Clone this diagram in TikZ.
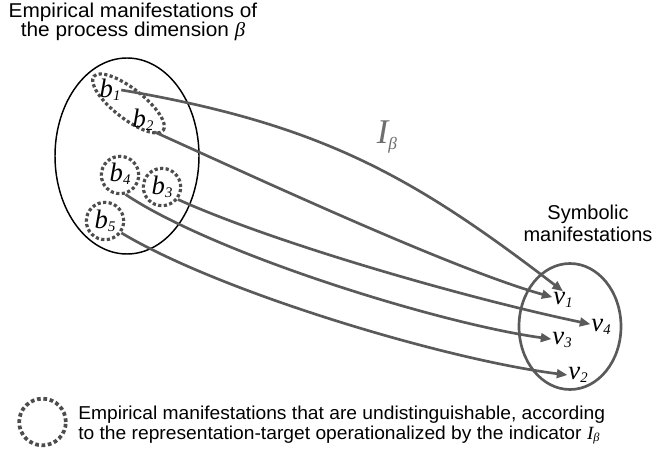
\documentclass[tikz,border=0pt]{standalone}
\usepackage{fontspec}
\setmainfont{Liberation Sans}
\newfontfamily\tms{Liberation Serif}
\usetikzlibrary{arrows.meta,shapes.geometric}
\definecolor{arrcol}{HTML}{5A5A5A}
\definecolor{dotcol}{HTML}{4D4D4D}
\definecolor{ibcol}{HTML}{6E6E6E}
\newcommand\wl[2][1.04]{\scalebox{#1}[1]{#2}}
\newcommand\lb[2]{{\fontsize{20}{20}\selectfont\tms\itshape #1}\raisebox{-2.5pt}{\fontsize{11}{11}\selectfont\tms\itshape #2}}
\tikzset{
  dots/.style={draw=dotcol, line width=2.4pt, dash pattern=on 2.4pt off 1.8pt},
  conn/.style={draw=arrcol, line width=2pt, -{Triangle[length=8pt,width=6.5pt]}},
  lab/.style={inner sep=0.5pt},
  txt/.style={inner sep=0pt, font=\fontsize{15}{14}\selectfont},
}
\begin{document}
\begin{tikzpicture}[x=0.75pt,y=-0.75pt]
\useasboundingbox (0,0) rectangle (653,456);
% title
\node[txt, align=center] (title) at (133,22) {\wl{Empirical manifestations of}\\ \wl{the process dimension {\tms\itshape β}}};
% big ellipse
\node[ellipse, draw, line width=1.1pt, minimum width=108pt, minimum height=147pt, inner sep=0pt] (E) at (127,156) {};
% dotted groups
\node[ellipse, dots, minimum width=66pt, minimum height=22.5pt, inner sep=0pt, rotate=-38] (g12) at (128.5,103.5) {};
\node[circle, dots, minimum size=28pt, inner sep=0pt] (g4) at (120,175) {};
\node[circle, dots, minimum size=28pt, inner sep=0pt] (g3) at (162,187) {};
\node[circle, dots, minimum size=28pt, inner sep=0pt] (g5) at (105,221) {};
% b labels
\node[lab] (b1) at (110,90) {\lb{b}{1}};
\node[lab] (b2) at (143,120) {\lb{b}{2}};
\node[lab] (b4) at (120,174) {\lb{b}{4}};
\node[lab] (b3) at (162,187) {\lb{b}{3}};
\node[lab] (b5) at (105,221) {\lb{b}{5}};
% right ellipse
\node[ellipse, draw=arrcol, line width=2pt, minimum width=76.5pt, minimum height=94.5pt, inner sep=0pt] (S) at (570,326.5) {};
\node[txt, align=center, font=\fontsize{15}{16.5}\selectfont] (sym) at (588,223) {Symbolic\\ manifestations};
% v labels
\node[lab] (v1) at (563,300) {\lb{v}{1}};
\node[lab] (v4) at (601,327) {\lb{v}{4}};
\node[lab] (v3) at (562,340) {\lb{v}{3}};
\node[lab] (v2) at (578,375) {\lb{v}{2}};
% I beta
\node[inner sep=0pt, text=ibcol] (Ib) at (387,137) {{\fontsize{26}{26}\selectfont\tms\itshape I}\raisebox{-5pt}{\fontsize{13}{13}\selectfont\tms\itshape β}};
% connectors
\draw[conn] (b1.east) .. controls +(200,34) and +(-150,-115) .. (v1.north);
\draw[conn] (b2.south east) .. controls +(100,45) and +(-100,-28) .. (v1.165);
\draw[conn] (g3.-38) .. controls +(100,45) and +(-120,-25) .. (v4.165);
\draw[conn] (g4.-74) .. controls +(90,60) and +(-110,-15) .. (v3.175);
\draw[conn] (g5.-36) .. controls +(100,60) and +(-120,-15) .. (v2.west);
% legend
\node[circle, dots, line width=2.8pt, dash pattern=on 2.8pt off 2pt, minimum size=35pt, inner sep=0pt] (leg) at (42.5,422) {};
\node[txt, anchor=west, align=left, font=\fontsize{14}{15}\selectfont] (legtxt) at (78,425) {\wl[1.03]{Empirical manifestations that are undistinguishable, according}\\ \wl[1.03]{to the representation-target operationalized by the indicator {\tms\itshape I}\raisebox{-2pt}{\fontsize{9}{9}\selectfont\tms\itshape β}}};
\end{tikzpicture}
\end{document}
